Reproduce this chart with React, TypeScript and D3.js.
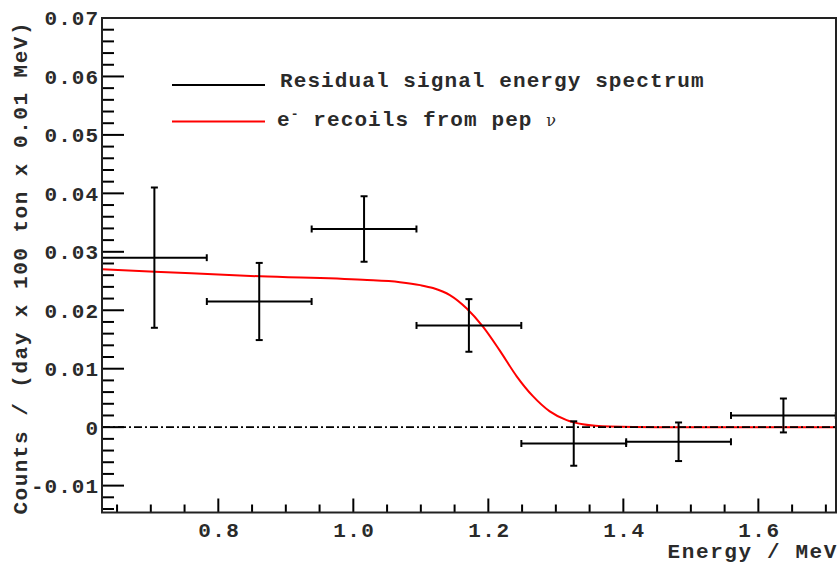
import React from "react";
import * as d3 from "d3";

// ---- data ----
const binCenters = [0.7053, 0.8606, 1.0159, 1.1712, 1.3265, 1.4818, 1.6371];
const binHalfWidth = [0.0776, 0.0776, 0.0776, 0.0776, 0.0776, 0.0776, 0.0776];
const counts = [0.029, 0.0215, 0.0339, 0.0174, -0.0028, -0.0025, 0.002];
const countErrors = [0.012, 0.0066, 0.0056, 0.0045, 0.0038, 0.0033, 0.0029];

const curveEnergy = [0.628, 0.706, 0.862, 1.014, 1.069, 1.099, 1.118, 1.143, 1.168, 1.192, 1.217, 1.242, 1.266, 1.291, 1.316, 1.34, 1.38, 1.45, 1.715];
const curveValue = [0.027, 0.0266, 0.0258, 0.0252, 0.0248, 0.0243, 0.0238, 0.0226, 0.0203, 0.0172, 0.0131, 0.0087, 0.0053, 0.0027, 0.0012, 0.0005, 0.0001, 0.0, 0.0];

const xTicks = [0.8, 1.0, 1.2, 1.4, 1.6];
const yTicks = [-0.01, 0, 0.01, 0.02, 0.03, 0.04, 0.05, 0.06, 0.07];
const yTickLabels = ["-0.01", "0", "0.01", "0.02", "0.03", "0.04", "0.05", "0.06", "0.07"];

const W = 837;
const H = 565;
const FONT = "'Liberation Mono', 'DejaVu Sans Mono', monospace";

export default function App() {
  const x = d3.scaleLinear().domain([0.6277, 1.715]).range([102, 836]);
  const y = d3.scaleLinear().domain([-0.0146, 0.07]).range([512.5, 18]);
  const [x0, x1] = x.range();
  const [y0, y1] = y.range();

  const minorX = d3.range(0.65, 1.716, 0.05).filter((v) => Math.abs(Math.round(v * 5) - v * 5) > 1e-6);
  const minorY = d3.range(-0.014, 0.0701, 0.002).filter((v) => Math.abs(Math.round(v * 100) - v * 100) > 1e-6);

  const line = d3
    .line<number>()
    .x((_, i) => x(curveEnergy[i]))
    .y((_, i) => y(curveValue[i]))
    .curve(d3.curveMonotoneX);

  const cap = 3.5;

  return (
    <svg width={W} height={H} style={{ position: "absolute", left: 0, top: 0, background: "#fff" }}>
      <defs>
        <clipPath id="frame">
          <rect x={x0} y={y1} width={x1 - x0} height={y0 - y1} />
        </clipPath>
      </defs>

      {/* curve */}
      <g clipPath="url(#frame)">
        <path d={line(curveValue) || ""} fill="none" stroke="#ff0000" strokeWidth={2} />
        {/* zero line */}
        <line x1={x0} x2={x1} y1={y(0)} y2={y(0)} stroke="#000" strokeWidth={1.6} strokeDasharray="8 3 2 3" />
        {/* data points with error bars */}
        {counts.map((v, i) => {
          const cx = x(binCenters[i]);
          const cy = y(v);
          const xl = x(binCenters[i] - binHalfWidth[i]);
          const xr = x(binCenters[i] + binHalfWidth[i]);
          const yt = y(v + countErrors[i]);
          const yb = y(v - countErrors[i]);
          return (
            <g key={i} stroke="#000" strokeWidth={2}>
              <line x1={xl} x2={xr} y1={cy} y2={cy} />
              <line x1={cx} x2={cx} y1={yt} y2={yb} />
              <line x1={xl} x2={xl} y1={cy - cap} y2={cy + cap} />
              <line x1={xr} x2={xr} y1={cy - cap} y2={cy + cap} />
              <line x1={cx - cap} x2={cx + cap} y1={yt} y2={yt} />
              <line x1={cx - cap} x2={cx + cap} y1={yb} y2={yb} />
            </g>
          );
        })}
      </g>

      {/* axis ticks */}
      <g stroke="#000" strokeWidth={2}>
        {yTicks.map((t) => (
          <line key={"ym" + t} x1={x0} x2={x0 + 22} y1={y(t)} y2={y(t)} />
        ))}
        {minorY.map((t) => (
          <line key={"yn" + t} x1={x0} x2={x0 + 12} y1={y(t)} y2={y(t)} />
        ))}
        {xTicks.map((t) => (
          <line key={"xm" + t} x1={x(t)} x2={x(t)} y1={y0} y2={y0 - 14} />
        ))}
        {minorX.map((t) => (
          <line key={"xn" + t} x1={x(t)} x2={x(t)} y1={y0} y2={y0 - 8} />
        ))}
      </g>

      {/* frame */}
      <rect x={x0} y={y1} width={x1 - x0} height={y0 - y1} fill="none" stroke="#222" strokeWidth={2} />

      {/* tick labels */}
      <g fontFamily={FONT} fontWeight="bold" fontSize={21} fill="#2a2a2a">
        {yTicks.map((t, i) => (
          <text key={"yl" + t} x={x0 - 3} y={y(t)} dy="0.35em" textAnchor="end" letterSpacing={1}>
            {yTickLabels[i]}
          </text>
        ))}
        {xTicks.map((t) => (
          <text key={"xl" + t} x={x(t) + 1} y={537} textAnchor="middle" letterSpacing={1.5}>
            {t.toFixed(1)}
          </text>
        ))}
        <text x={838} y={558} textAnchor="end" letterSpacing={1.6}>Energy / MeV</text>
        <text transform="translate(27,21) rotate(-90)" textAnchor="end" letterSpacing={1.5}>
          Counts / (day x 100 ton x 0.01 MeV)
        </text>
      </g>

      {/* legend */}
      <g>
        <line x1={172} x2={265} y1={85} y2={85} stroke="#000" strokeWidth={2} />
        <line x1={172} x2={265} y1={121.5} y2={121.5} stroke="#ff0000" strokeWidth={2} />
        <g fontFamily={FONT} fontWeight="bold" fontSize={21} fill="#2a2a2a" letterSpacing={1.1}>
          <text x={280} y={87}>Residual signal energy spectrum</text>
          <text x={277} y={126}>
            e<tspan fontSize={13} dy={-8}>-</tspan>
            <tspan dy={8}> recoils from pep </tspan>
            <tspan fontFamily="'DejaVu Serif', serif" fontWeight="normal" fontSize={16}>ν</tspan>
          </text>
        </g>
      </g>
    </svg>
  );
}
